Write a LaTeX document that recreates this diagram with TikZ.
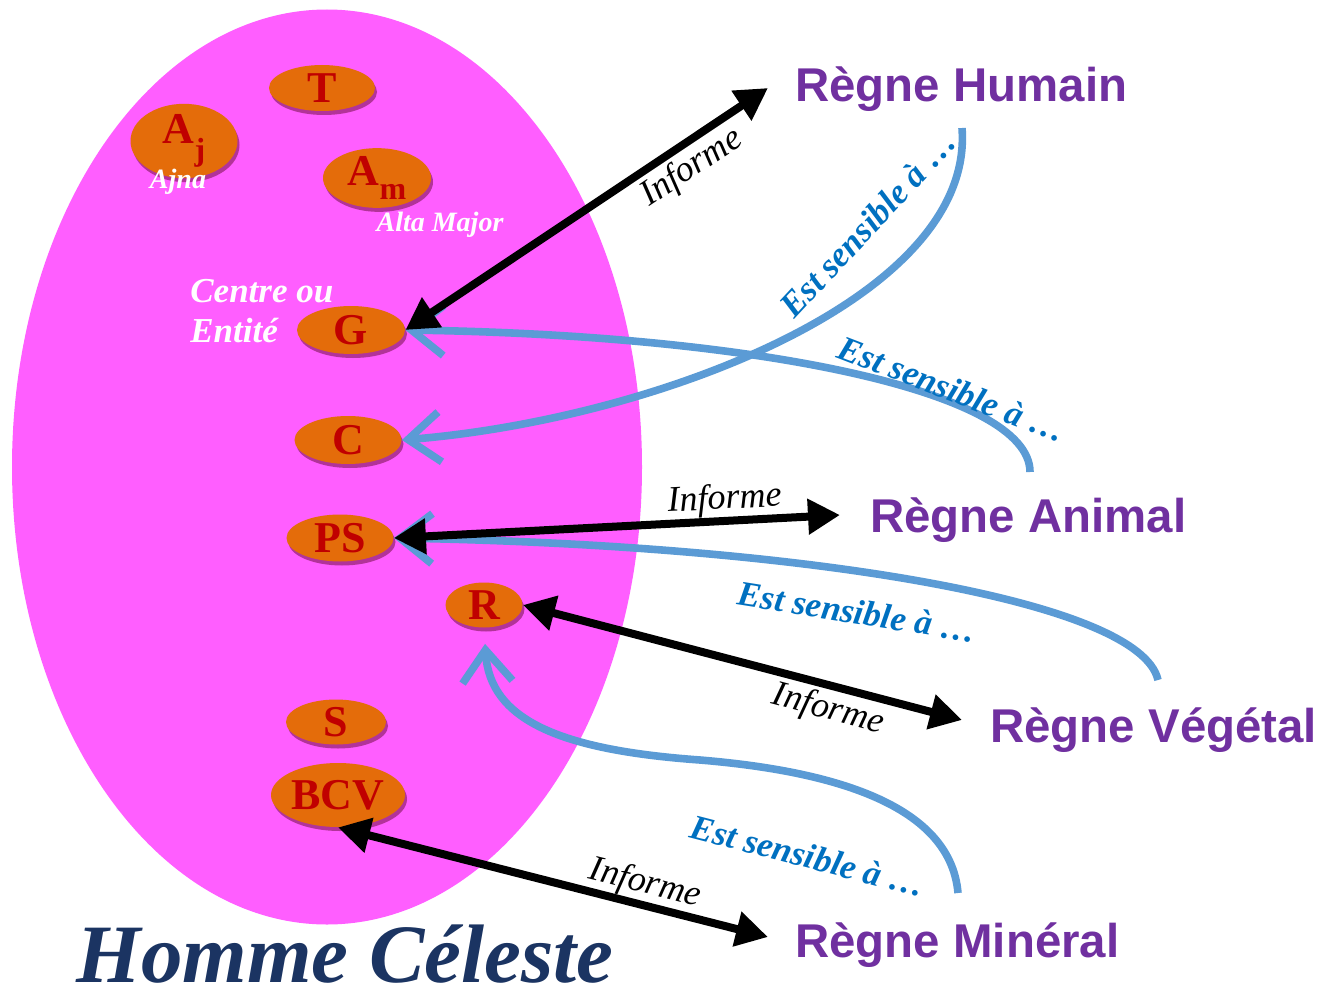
\documentclass[tikz,border=0pt]{standalone}
\usepackage{fontspec}
\setmainfont{Liberation Serif}
\newfontfamily\arialfont{Liberation Sans}
\usetikzlibrary{shapes.geometric,arrows.meta,shadows}
\definecolor{pinkbody}{HTML}{FF5EFF}
\definecolor{chakraor}{HTML}{E46C0A}
\definecolor{chakratxt}{HTML}{C00000}
\definecolor{regne}{HTML}{7030A0}
\definecolor{sensline}{HTML}{5B9BD5}
\definecolor{senstxt}{HTML}{0070C0}
\definecolor{navy}{HTML}{1B3462}
\begin{document}
\begin{tikzpicture}[x=0.5pt,y=-0.5pt,
 chakra/.style={ellipse, fill=chakraor, inner sep=0pt, text=chakratxt,
   font=\bfseries\fontsize{22}{22}\selectfont,
   drop shadow={shadow xshift=1pt, shadow yshift=-2pt, fill=black!55!purple, opacity=0.45}},
 regnelbl/.style={anchor=base west, inner sep=0pt, text=regne, font=\arialfont\bfseries\fontsize{23.7}{28}\selectfont},
 informe/.style={inner sep=0pt, font=\itshape\fontsize{18}{18}\selectfont},
 senslbl/.style={inner sep=0pt, text=senstxt, font=\bfseries\itshape\fontsize{17.5}{17.5}\selectfont},
 whitelbl/.style={inner sep=0pt, text=white, font=\bfseries\itshape\fontsize{14}{14}\selectfont},
 infarrow/.style={line width=4pt, {Triangle[length=16pt,width=17pt]}-{Triangle[length=16pt,width=17pt]}},
 sensarrow/.style={line width=3.8pt, draw=sensline, -{Straight Barb[length=16pt,width=25pt]}},
]
\useasboundingbox (0,0) rectangle (1333,995);

% body
\node[ellipse, fill=pinkbody, inner sep=0pt, minimum width=315pt, minimum height=457.5pt] (body) at (327,467) {};

% chakras
\node[chakra, minimum width=53pt, minimum height=23pt] (T) at (322,88) {T};
\node[chakra, minimum width=53.5pt, minimum height=24pt] (Aj) at (184,141) {A\raisebox{-0.38em}{\fontsize{16}{16}\selectfont j}};
\node[chakra, minimum width=54pt, minimum height=24.5pt] (Am) at (377,178) {A\raisebox{-0.3em}{\fontsize{16}{16}\selectfont m}};
\node[chakra, minimum width=54pt, minimum height=24pt] (G) at (351,330) {G};
\node[chakra, minimum width=53.5pt, minimum height=24pt] (C) at (348,440) {C};
\node[chakra, minimum width=53.5pt, minimum height=23.5pt] (PS) at (340,538) {PS};
\node[chakra, minimum width=38.5pt, minimum height=22.5pt] (R) at (484,605) {R};
\node[chakra, minimum width=50pt, minimum height=22.5pt] (S) at (336,722) {S};
\node[chakra, minimum width=67pt, minimum height=32pt] (BCV) at (338,795) {BCV};

% white labels
\node[whitelbl] (ajna) at (178,182) {Ajna};
\node[whitelbl] (alta) at (440,225) {Alta Major};
\node[inner sep=0pt, text=white, font=\bfseries\itshape\fontsize{17.5}{20}\selectfont, align=left, anchor=north west] (centre) at (190,279) {Centre ou\\Entité};

% regne labels
\node[regnelbl] (RH) at (795,102) {Règne Humain};
\node[regnelbl] (RA) at (870,532) {Règne Animal};
\node[regnelbl] (RV) at (990,742) {Règne Végétal};
\node[regnelbl] (RM) at (795,957) {Règne Minéral};

% title
\node[inner sep=0pt, anchor=base, text=navy, font=\bfseries\itshape\fontsize{41.5}{42}\selectfont] (title) at (345,982) {Homme Céleste};

% connector endpoints
\coordinate (hH) at (768,88);
\coordinate (hA) at (840,515);
\coordinate (hV) at (962,720);
\coordinate (hM) at (768,937);
\coordinate (sH) at (962,128);
\coordinate (sA) at (1030,472);
\coordinate (sV) at (1158,680);
\coordinate (sM) at (958,893);

% blue sensitivity curves
\draw[sensarrow] (sH) .. controls (975,300) and (650,420) .. (C.east);
\draw[sensarrow] (sA) .. controls (1030,390) and (750,335) .. (G.east);
\draw[sensarrow] (sV) .. controls (1140,600) and (800,545) .. (PS.east);
\draw[sensarrow, shorten >=8pt] (sM) .. controls (950,800) and (820,770) .. (700,760)
   .. controls (560,750) and (490,720) .. (R.south);

% black informe arrows
\draw[infarrow] (G.east) -- (hH);
\draw[infarrow] (PS.east) -- (hA);
\draw[infarrow] (R.east) -- (hV);
\draw[infarrow] (BCV.south) -- (hM);

% labels
\node[informe, rotate=33.7] (i1) at (692,168) {Informe};
\node[informe, rotate=3] (i2) at (725,500) {Informe};
\node[informe, rotate=-15] (i3) at (828,710) {Informe};
\node[informe, rotate=-14] (i4) at (645,884) {Informe};

\node[senslbl, rotate=47] (e1) at (868,224) {Est sensible à …};
\node[senslbl, rotate=-21] (e2) at (952,389) {Est sensible à …};
\node[senslbl, rotate=-9] (e3) at (857,612) {Est sensible à …};
\node[senslbl, rotate=-14.5] (e4) at (808,856) {Est sensible à …};
\end{tikzpicture}
\end{document}
